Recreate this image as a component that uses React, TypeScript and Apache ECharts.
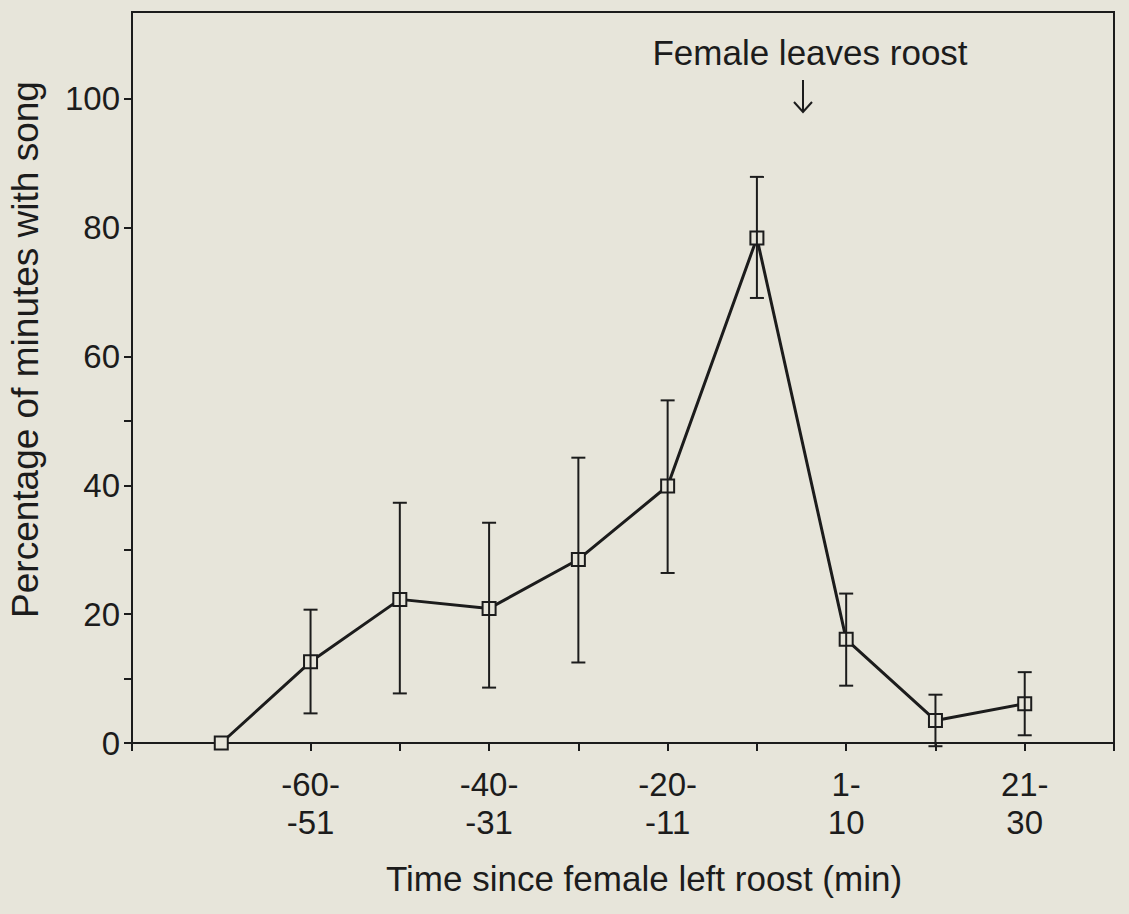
import React, { useEffect, useRef } from "react";
import * as echarts from "echarts";

// Time bins (minutes relative to the female leaving the roost)
const categories = [
  "-70 to -61",
  "-60 to -51",
  "-50 to -41",
  "-40 to -31",
  "-30 to -21",
  "-20 to -11",
  "-10 to -1",
  "1 to 10",
  "11 to 20",
  "21 to 30",
];
// Percentage of minutes with song (mean) and error-bar limits
const means = [0, 12.6, 22.3, 20.9, 28.5, 39.9, 78.4, 16.1, 3.5, 6.1];
const upper = [null, 20.7, 37.3, 34.2, 44.3, 53.2, 87.9, 23.2, 7.5, 11.0];
const lower = [null, 4.6, 7.7, 8.6, 12.5, 26.4, 69.1, 8.9, -0.5, 1.2];

// Tick labels on the x axis (shown at every second bin)
const xTickLabels: Record<number, string> = {
  2: "-60-\n-51",
  4: "-40-\n-31",
  6: "-20-\n-11",
  8: "1-\n10",
  10: "21-\n30",
};
const xTickPositions = [0, 2, 3, 4, 5, 6, 7, 8, 9, 10, 11];
const yTickValues = [0, 10, 20, 30, 40, 50, 60, 80, 100];
const yLabelValues = [0, 20, 40, 60, 80, 100];

const ink = "#1c1c1c";
const bg = "#e7e5da";
const font = "'Liberation Sans', Arial, Helvetica, sans-serif";

export default function App() {
  const ref = useRef<HTMLDivElement>(null);
  useEffect(() => {
    document.body.style.margin = "0";
    document.body.style.background = bg;
    const chart = echarts.init(ref.current!, null, { renderer: "svg" });
    const lineData = means.map((m, i) => [i + 1, m]);
    const errData = categories
      .map((_, i) => (upper[i] == null ? null : [i + 1, lower[i], upper[i]]))
      .filter((d) => d != null);
    chart.setOption({
      animation: false,
      backgroundColor: bg,
      grid: {
        left: 132,
        right: 15,
        top: 12,
        bottom: 171,
        outerBoundsMode: "none",
        containLabel: false,
        show: true,
        borderColor: ink,
        borderWidth: 2,
        backgroundColor: "transparent",
      },
      xAxis: {
        type: "value",
        min: 0,
        max: 11,
        interval: 1,
        name: "Time since female left roost (min)",
        nameLocation: "middle",
        nameGap: 118,
        nameTextStyle: {
          fontFamily: font,
          fontSize: 35,
          color: ink,
          padding: [0, 0, 0, 42],
        },
        axisLine: { show: true, onZero: false, lineStyle: { color: ink, width: 2 } },
        axisTick: {
          show: true,
          inside: false,
          length: 8,
          customValues: xTickPositions,
          lineStyle: { color: ink, width: 2 },
        },
        axisLabel: {
          customValues: Object.keys(xTickLabels).map(Number),
          formatter: (v: number) => xTickLabels[v] ?? "",
          fontFamily: font,
          fontSize: 33,
          color: ink,
          lineHeight: 38,
          margin: 22,
          align: "center",
        },
        splitLine: { show: false },
      },
      yAxis: {
        type: "value",
        min: 0,
        max: 113.5,
        name: "Percentage of minutes with song",
        nameLocation: "middle",
        nameGap: 88,
        nameRotate: 90,
        nameTextStyle: {
          fontFamily: font,
          fontSize: 37,
          color: ink,
          padding: [0, 0, 0, 56],
        },
        axisLine: { show: true, lineStyle: { color: ink, width: 2 } },
        axisTick: {
          show: true,
          length: 8,
          customValues: yTickValues,
          lineStyle: { color: ink, width: 2 },
        },
        axisLabel: {
          customValues: yLabelValues,
          fontFamily: font,
          fontSize: 33,
          color: ink,
          margin: 12,
        },
        splitLine: { show: false },
      },
      series: [
        {
          type: "line",
          data: lineData,
          z: 2,
          symbol: "rect",
          symbolSize: 13,
          showAllSymbol: true,
          lineStyle: { color: ink, width: 3 },
          itemStyle: { color: bg, borderColor: ink, borderWidth: 2 },
        },
        {
          type: "custom",
          z: 3,
          data: errData,
          renderItem: (params: any, api: any) => {
            const x = api.value(0);
            const top = api.coord([x, api.value(2)]);
            const bot = api.coord([x, api.value(1)]);
            const hw = 7;
            const st = { stroke: ink, lineWidth: 2 };
            return {
              type: "group",
              children: [
                { type: "line", shape: { x1: top[0], y1: top[1], x2: bot[0], y2: bot[1] }, style: st },
                { type: "line", shape: { x1: top[0] - hw, y1: top[1], x2: top[0] + hw, y2: top[1] }, style: st },
                { type: "line", shape: { x1: bot[0] - hw, y1: bot[1], x2: bot[0] + hw, y2: bot[1] }, style: st },
              ],
            };
          },
        },
      ],
      graphic: [
        {
          type: "text",
          x: 810,
          y: 52,
          style: {
            text: "Female leaves roost",
            fontFamily: font,
            fontSize: 35,
            fill: ink,
            align: "center",
            verticalAlign: "middle",
          },
        },
        {
          type: "line",
          shape: { x1: 803, y1: 80, x2: 803, y2: 112 },
          style: { stroke: ink, lineWidth: 2 },
        },
        {
          type: "polyline",
          shape: { points: [[794, 102], [803, 112], [812, 102]] },
          style: { stroke: ink, lineWidth: 2, fill: "none" },
        },
      ],
    });
    return () => chart.dispose();
  }, []);
  return (
    <div
      ref={ref}
      style={{ position: "fixed", left: 0, top: 0, width: 1129, height: 914 }}
    />
  );
}
